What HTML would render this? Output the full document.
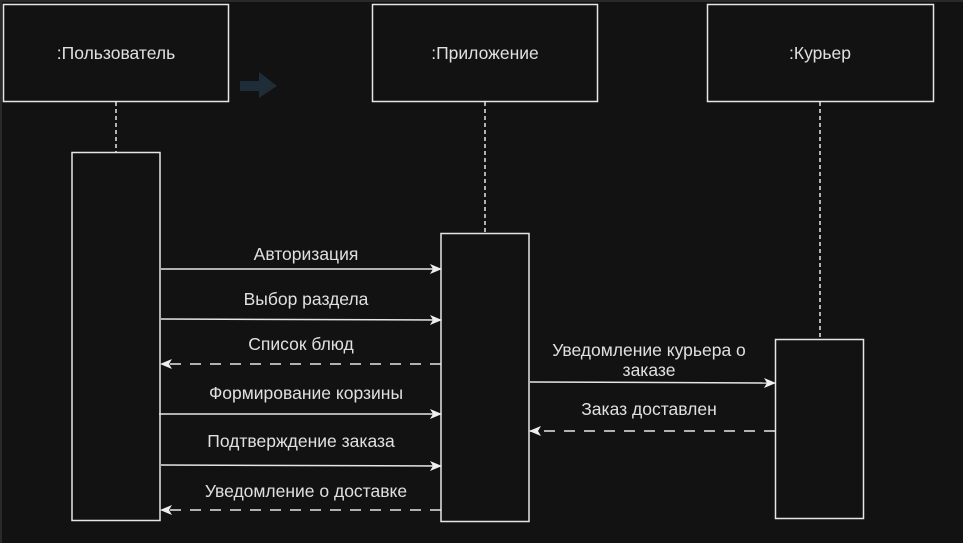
<!DOCTYPE html>
<html><head><meta charset="utf-8"><style>
html,body{margin:0;padding:0;background:#121212;}
svg{display:block;}
text{font-family:"Liberation Sans","DejaVu Sans",sans-serif;font-size:17.5px;fill:#e0e0e0;text-anchor:middle;}
</style></head><body>
<svg width="963" height="543" viewBox="0 0 963 543" xmlns="http://www.w3.org/2000/svg">
<defs>
<marker id="a" viewBox="0 0 12 12" refX="11" refY="6" markerWidth="12" markerHeight="12" markerUnits="userSpaceOnUse" orient="auto">
<path d="M0,1 L12,6 L0,11 L3,6 Z" fill="#eeeeee"/>
</marker>
</defs>
<rect width="963" height="543" fill="#121212"/>
<rect x="0" y="0" width="963" height="2" fill="#2a2a2a"/>
<rect x="0" y="0" width="2" height="543" fill="#2a2a2a"/>
<g fill="#121212" stroke="#e6e6e6" stroke-width="1.5">
<rect x="3.5" y="4.5" width="225" height="97"/>
<rect x="372.5" y="4.5" width="225" height="97"/>
<rect x="707.5" y="4.5" width="226" height="97"/>
</g>
<text x="116" y="59">:Пользователь</text>
<text x="485" y="59">:Приложение</text>
<text x="820" y="59">:Курьер</text>
<path d="M240,81 L259,81 L259,72 L277,86 L259,98 L259,91 L240,91 Z" fill="#1f2d38"/>
<g stroke="#e6e6e6" stroke-width="1.5" stroke-dasharray="4,3">
<line x1="116" y1="102" x2="116" y2="152"/>
<line x1="485" y1="102" x2="485" y2="233"/>
<line x1="820" y1="102" x2="820" y2="339"/>
</g>
<g fill="#121212" stroke="#e6e6e6" stroke-width="1.5">
<rect x="72" y="152.5" width="88" height="368"/>
<rect x="441" y="233.5" width="88" height="288"/>
<rect x="775.5" y="339.5" width="88" height="179"/>
</g>
<g stroke="#e6e6e6" stroke-width="1.5" fill="none">
<line x1="161" y1="269" x2="441" y2="269" marker-end="url(#a)"/>
<line x1="161" y1="319" x2="441" y2="320" marker-end="url(#a)"/>
<line x1="441" y1="364" x2="161" y2="364" stroke-dasharray="11,9" marker-end="url(#a)"/>
<line x1="159" y1="414" x2="441" y2="414" marker-end="url(#a)"/>
<line x1="161" y1="465" x2="441" y2="466" marker-end="url(#a)"/>
<line x1="441" y1="510" x2="161" y2="510" stroke-dasharray="11,9" marker-end="url(#a)"/>
<line x1="530" y1="382" x2="775" y2="383" marker-end="url(#a)"/>
<line x1="775" y1="431" x2="530" y2="431" stroke-dasharray="11,9" marker-end="url(#a)"/>
</g>
<text x="306" y="260">Авторизация</text>
<text x="306" y="305">Выбор раздела</text>
<text x="301" y="350">Список блюд</text>
<text x="306" y="399">Формирование корзины</text>
<text x="301" y="447">Подтверждение заказа</text>
<text x="306" y="497">Уведомление о доставке</text>
<text x="649" y="356">Уведомление курьера о</text>
<text x="649" y="376">заказе</text>
<text x="649" y="415">Заказ доставлен</text>
</svg>
</body></html>
